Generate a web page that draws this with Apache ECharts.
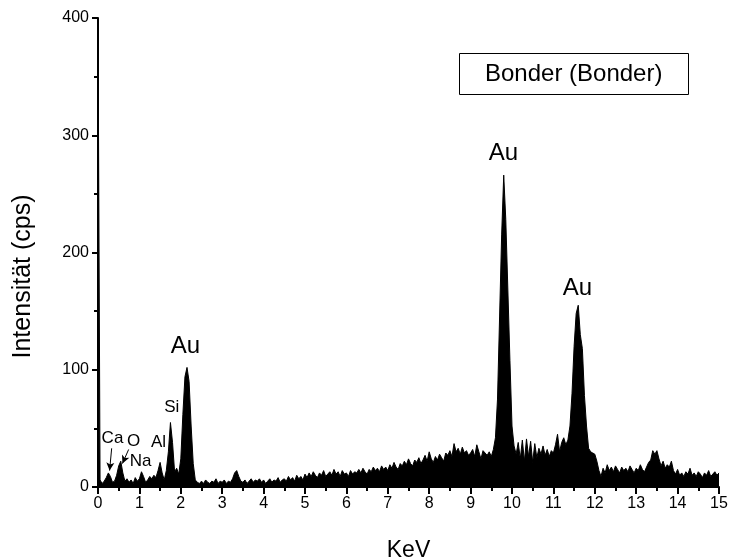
<!DOCTYPE html>
<html>
<head>
<meta charset="utf-8">
<script src="https://cdn.jsdelivr.net/npm/echarts@6/dist/echarts.min.js"></script>
<style>
  html, body { margin: 0; padding: 0; background: #fff; }
  #chart { width: 731px; height: 560px; }
</style>
</head>
<body>
<div id="chart"></div>
<script>
// spectrum, one value per 0.05 keV channel
const STEP = 0.05
const counts0 = [400, 6, 3, 5, 8, 12, 9, 4, 5, 10, 18, 22, 12, 5, 7, 4, 6, 3, 8, 5]
const counts1 = [7, 13, 9, 4, 6, 9, 7, 10, 8, 14, 21, 12, 6, 14, 30, 55, 38, 13, 16, 11]
const counts2 = [24, 62, 94, 102, 90, 52, 20, 6, 4, 3, 5, 3, 6, 4, 3, 5, 4, 7, 3, 5]
const counts3 = [4, 6, 3, 5, 4, 7, 12, 14, 9, 5, 4, 6, 3, 5, 7, 4, 6, 5, 7, 4]
const counts4 = [6, 3, 5, 7, 4, 6, 5, 8, 4, 6, 7, 5, 9, 6, 8, 5, 10, 7, 9, 6]
const counts5 = [11, 8, 12, 9, 13, 10, 8, 12, 10, 14, 9, 11, 13, 10, 15, 11, 13, 9, 14, 11]
const counts6 = [12, 9, 14, 11, 13, 12, 15, 12, 16, 13, 11, 15, 13, 17, 14, 16, 13, 18, 15, 17]
const counts7 = [14, 19, 16, 21, 17, 15, 20, 18, 22, 19, 24, 20, 18, 23, 21, 25, 20, 23, 27, 22]
const counts8 = [30, 24, 21, 26, 23, 28, 25, 22, 29, 27, 31, 26, 37, 30, 33, 28, 34, 29, 31, 27]
const counts9 = [29, 32, 26, 36, 30, 24, 31, 29, 27, 30, 26, 32, 42, 75, 145, 215, 266, 228, 168, 108]
const counts10 = [52, 35, 28, 38, 24, 40, 22, 41, 26, 39, 21, 37, 25, 33, 28, 35, 27, 32, 26, 31]
const counts11 = [29, 36, 45, 30, 38, 42, 36, 40, 52, 80, 120, 148, 155, 130, 118, 78, 52, 33, 30, 29]
const counts12 = [28, 22, 14, 9, 16, 12, 19, 14, 17, 13, 18, 15, 12, 17, 14, 16, 13, 18, 15, 12]
const counts13 = [16, 14, 19, 15, 13, 17, 21, 23, 31, 28, 31, 24, 18, 22, 16, 19, 17, 22, 14, 11]
const counts14 = [15, 10, 12, 9, 13, 11, 16, 10, 12, 9, 13, 11, 8, 12, 10, 14, 9, 11, 13, 10, 12]

const counts = [].concat(counts0, counts1, counts2, counts3, counts4, counts5, counts6,
    counts7, counts8, counts9, counts10, counts11, counts12, counts13, counts14)

// peak labels: [keV, cps (bottom of text), text, size]
const peakLabels = [
    [0.35, 34, 'Ca', 17],
    [0.86, 32, 'O', 17],
    [1.03, 15, 'Na', 17],
    [1.46, 31, 'Al', 17],
    [1.78, 61, 'Si', 17],
    [2.11, 110, 'Au', 24],
    [9.79, 274, 'Au', 24],
    [11.58, 159, 'Au', 24]
]
// arrows: [fromKeV, fromCps, toKeV, toCps]
const arrows = [
    [0.33, 33, 0.28, 14],
    [0.74, 32, 0.59, 20]
]

const font = 'Arial, "Liberation Sans", Helvetica, sans-serif'
let chart = echarts.init(document.getElementById('chart'))

let spectrum = counts.map((v, i) => [+(i * STEP).toFixed(2), v])

let option = {
    animation: false,
    backgroundColor: '#fff',
    textStyle: { fontFamily: font, color: '#000' },
    title: {
        text: 'Bonder (Bonder)',
        left: 459,
        top: 53,
        padding: [9, 26, 9, 26],
        borderColor: '#000',
        borderWidth: 1,
        textStyle: { fontFamily: font, fontSize: 24, fontWeight: 'normal', color: '#000' }
    },
    grid: { left: 98, right: 12, top: 18, bottom: 73, outerBoundsMode: 'none', containLabel: false },
    xAxis: {
        type: 'value',
        min: 0,
        max: 15,
        interval: 1,
        name: 'KeV',
        nameLocation: 'middle',
        nameGap: 52,
        nameTextStyle: { fontSize: 23, color: '#000' },
        axisLine: { lineStyle: { color: '#000', width: 2 } },
        axisTick: { length: 7, lineStyle: { color: '#000', width: 2 } },
        minorTick: { show: true, splitNumber: 2, length: 4, lineStyle: { color: '#000', width: 2 } },
        axisLabel: { fontSize: 16, color: '#000', margin: 9 },
        splitLine: { show: false }
    },
    yAxis: {
        type: 'value',
        min: 0,
        max: 400,
        interval: 100,
        name: 'Intensität (cps)',
        nameLocation: 'middle',
        nameGap: 62,
        nameTextStyle: { fontSize: 25, color: '#000', padding: [0, 48, 0, 0] },
        axisLine: { show: true, lineStyle: { color: '#000', width: 2 } },
        axisTick: { show: true, length: 6, lineStyle: { color: '#000', width: 2 } },
        minorTick: { show: true, splitNumber: 2, length: 4, lineStyle: { color: '#000', width: 2 } },
        axisLabel: { fontSize: 16, color: '#000', margin: 9 },
        splitLine: { show: false }
    },
    series: [
        {
            type: 'line',
            data: spectrum,
            showSymbol: false,
            symbol: 'none',
            lineStyle: { color: '#000', width: 1 },
            areaStyle: { color: '#000', opacity: 1 },
            z: 2
        },
        {
            type: 'scatter',
            data: peakLabels.map(p => ({
                value: p,
                label: { fontSize: p[3], color: '#000', opacity: 1 }
            })),
            symbolSize: 0,
            itemStyle: { color: '#000', opacity: 1 },
            label: {
                show: true,
                position: 'top',
                distance: 0,
                color: '#000',
                opacity: 1,
                fontFamily: font,
                formatter: p => p.value[2]
            },
            emphasis: { disabled: true },
            markLine: {
                silent: true,
                symbol: ['none', 'arrow'],
                symbolSize: [6, 8],
                lineStyle: { color: '#000', width: 1, type: 'solid', opacity: 1 },
                label: { show: false },
                data: arrows.map(a => [{ coord: [a[0], a[1]] }, { coord: [a[2], a[3]] }])
            },
            z: 5
        }
    ]
}

chart.setOption(option)
</script>
</body>
</html>
